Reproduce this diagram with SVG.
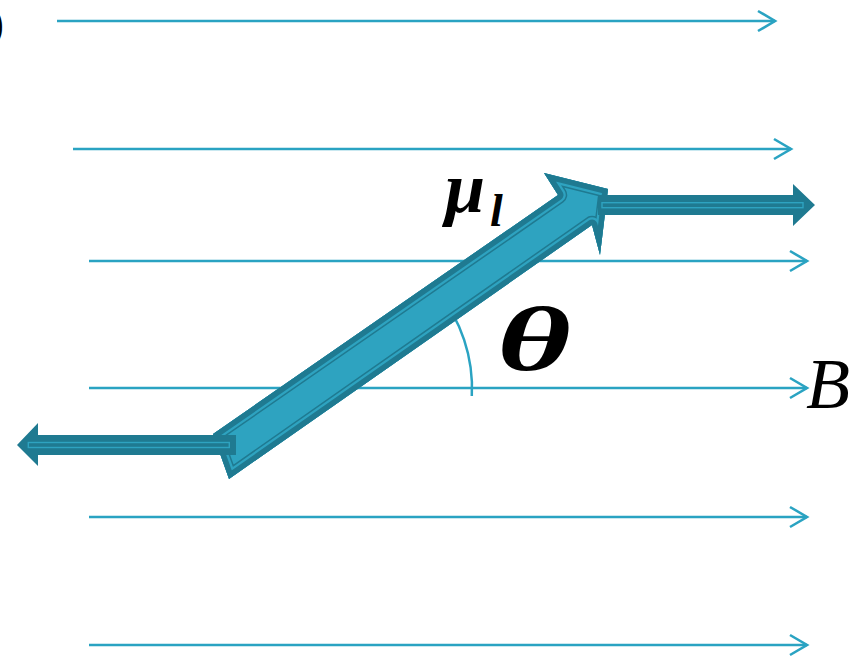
<svg xmlns="http://www.w3.org/2000/svg" xmlns:xlink="http://www.w3.org/1999/xlink" width="864" height="659" viewBox="0 0 864 659">
  <style>
    .field { stroke: #2aa3c2; stroke-width: 2.5; fill: none; }
    .chev { stroke: #2aa3c2; stroke-width: 2.6; fill: none; stroke-linejoin: miter; }
    .dark { fill: #1f7a91; }
    .inner { fill: none; stroke: #2ea3c0; stroke-width: 1.4; }
    .lbl { font-family: "Liberation Serif", "DejaVu Serif", serif; fill: #000; }
  </style>
  <defs>
    <polygon id="diagShape" points="213,434 558,195 544,173 608,189 600,255 592,225 229,479"/>
    <clipPath id="diagClip"><use xlink:href="#diagShape"/></clipPath>
  </defs>
  <rect width="864" height="659" fill="#fff"/>

  <text class="lbl" x="4" y="38" font-size="44" text-anchor="end">)</text>

  <g id="angle-arc">
    <path class="field" d="M436.4,290.3 A152,152 0 0 1 471.8,396" stroke-width="1.7"/>
  </g>

  <g id="connectors">
    <g id="field-1"><line class="field" x1="57" y1="21" x2="775" y2="21"/><polyline class="chev" points="758,11 775,21 758,31"/></g>
    <g id="field-2"><line class="field" x1="73" y1="149" x2="791" y2="149"/><polyline class="chev" points="774,139 791,149 774,159"/></g>
    <g id="field-3"><line class="field" x1="89" y1="261" x2="807" y2="261"/><polyline class="chev" points="790,251 807,261 790,271"/></g>
    <g id="field-4"><line class="field" x1="89" y1="388" x2="807" y2="388"/><polyline class="chev" points="790,378 807,388 790,398"/></g>
    <g id="field-5"><line class="field" x1="89" y1="517" x2="807" y2="517"/><polyline class="chev" points="790,507 807,517 790,527"/></g>
    <g id="field-6"><line class="field" x1="89" y1="645" x2="807" y2="645"/><polyline class="chev" points="790,635 807,645 790,655"/></g>
  </g>

  <g id="mu-arrow">
    <g clip-path="url(#diagClip)">
      <use xlink:href="#diagShape" fill="#2ea3c0" stroke="#1f7a91" stroke-width="18.5" stroke-linejoin="round"/>
      <use xlink:href="#diagShape" fill="none" stroke="#2ea3c0" stroke-width="15.5" stroke-linejoin="round"/>
      <use xlink:href="#diagShape" fill="none" stroke="#1f7a91" stroke-width="11" stroke-linejoin="round"/>
    </g>
  </g>

  <g id="arrow-right">
    <polygon class="dark" points="598,195 793,195 793,184 815,205 793,226 793,215 598,215"/>
    <rect class="inner" x="602" y="202.7" width="201" height="5"/>
  </g>

  <g id="arrow-left">
    <polygon class="dark" points="236,435 38,435 38,423 17,445 38,466 38,455 236,455"/>
    <rect class="inner" x="28.3" y="442.5" width="201" height="5"/>
  </g>

  <g id="labels">
    <text class="lbl" x="445" y="212" font-size="72" font-style="italic" font-weight="bold">μ</text>
    <text class="lbl" x="490" y="226" font-size="46" font-style="italic" font-weight="bold">l</text>
    <text class="lbl" x="0" y="0" font-size="92" font-style="italic" font-weight="bold" transform="translate(497,370) scale(1.55,1)">θ</text>
    <text class="lbl" x="806" y="408" font-size="72" font-style="italic">B</text>
  </g>
</svg>
